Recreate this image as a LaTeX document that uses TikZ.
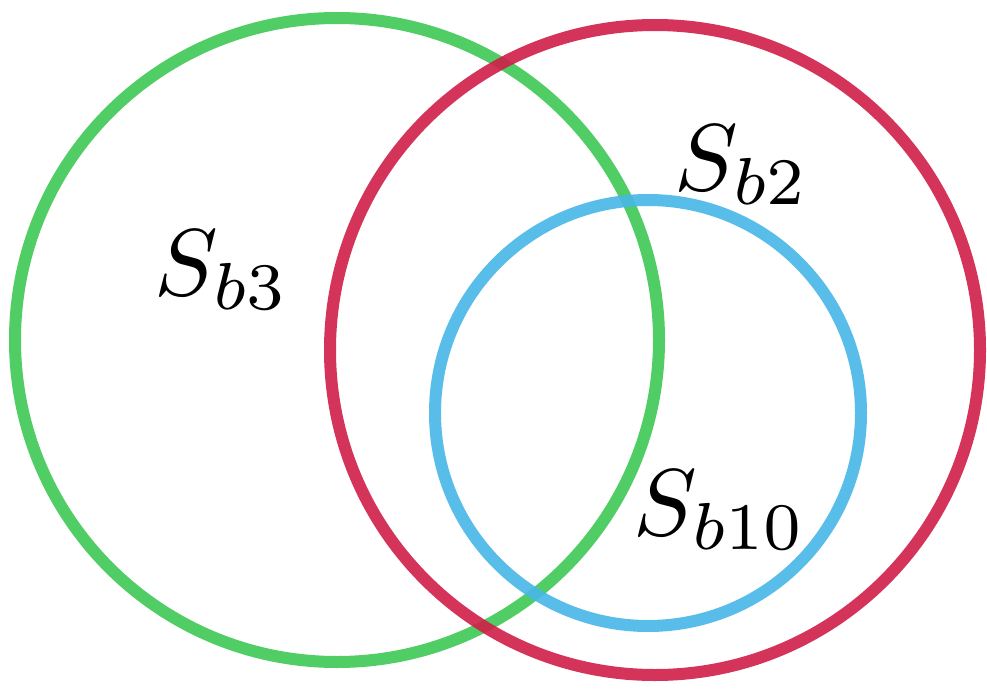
\documentclass[tikz,border=0pt]{standalone}
\usetikzlibrary{positioning}
\definecolor{cgreen}{RGB}{62,200,84}
\definecolor{cred}{RGB}{208,30,72}
\definecolor{cblue}{RGB}{72,182,232}
\begin{document}
\begin{tikzpicture}[x=1pt,y=-1pt,
  setcircle/.style={circle, draw, line width=12pt, inner sep=0pt, opacity=0.9},
  setlabel/.style={scale=9.5, text=black}]
\useasboundingbox (0,0) rectangle (987,698);
\fill[white] (0,0) rectangle (987,698);
\node[setcircle, draw=cgreen, minimum size=644pt] (green) at (337,340) {};
\node[setcircle, draw=cred, minimum size=650pt] (red) at (655,350) {};
\node[setcircle, draw=cblue, minimum size=426pt] (blue) at (648,413) {};
\node[setlabel] (lb3) at (222,270) {$S_{b3}$};
\node[setlabel] (lb2) at (742,165) {$S_{b2}$};
\node[setlabel] (lb10) at (720,510) {$S_{b10}$};
\end{tikzpicture}
\end{document}
